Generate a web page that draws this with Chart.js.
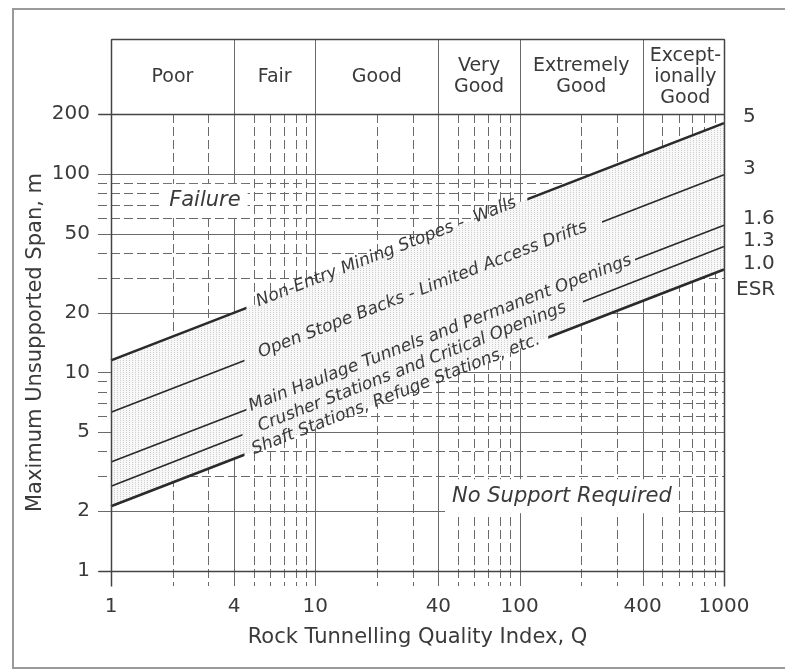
<!DOCTYPE html>
<html>
<head>
<meta charset="utf-8">
<script src="https://cdn.jsdelivr.net/npm/chart.js@4.4.0/dist/chart.umd.min.js"></script>
<style>
  html, body { margin: 0; padding: 0; background: #fff; }
  #wrap { width: 785px; height: 671px; }
</style>
</head>
<body>
<div id="wrap"><canvas id="chart" width="785" height="671"></canvas></div>
<script>
// span lines, read at Q = 1, at the right frame (1000) and at the end of the overhang
const qValues = [1, 1000, 1120];
const esrNames = ['5', '3', '1.6', '1.3', '1.0'];
const spanEsr50 = [11.5, 180, 186];
const spanEsr30 = [6.3, 99, 102];
const spanEsr16 = [3.54, 55, 57.4];
const spanEsr13 = [2.67, 43, 44.6];
const spanEsr10 = [2.12, 33, 34.2];

const lineLabels = [
    'Non-Entry Mining Stopes -  Walls',
    'Open Stope Backs - Limited Access Drifts',
    'Main Haulage Tunnels and Permanent Openings',
    'Crusher Stations and Critical Openings',
    'Shaft Stations, Refuge Stations, etc.'
];
// where each line is broken for its label (Q values)
const labelGapFrom = [4.6, 4.5, 4.6, 4.4, 4.5];
const labelGapTo = [109, 253, 367, 204, 138];

const qualityClasses = [['Poor'], ['Fair'], ['Good'], ['Very', 'Good'], ['Extremely', 'Good'], ['Except-', 'ionally', 'Good']];
const qualityBounds = [1, 4, 10, 40, 100, 400, 1000];

const xTicks = [1, 4, 10, 40, 100, 400, 1000];
const yTicks = [1, 2, 5, 10, 20, 50, 100, 200];
const xDashed = [2, 3, 5, 6, 7, 8, 9, 20, 30, 50, 60, 70, 80, 90, 200, 300, 500, 600, 700, 800, 900];
const yDashed = [3, 4, 6, 7, 8, 9, 30, 40, 60, 70, 80, 90];

const FONT = '"DejaVu Sans", sans-serif';
const inkColor = '#3a3a3a';
const gridColor = '#6a6a6a';
const lineColor = '#2a2a2a';
const bandHeight = 75;

const canvas = document.getElementById('chart');

// stippled fill for the band between ESR 5 and ESR 1.0
function makeStipple() {
    const tile = document.createElement('canvas');
    tile.width = 3;
    tile.height = 2;
    const g = tile.getContext('2d');
    g.fillStyle = '#f8f8f8';
    g.fillRect(0, 0, 3, 2);
    g.fillStyle = '#cdcdcd';
    g.fillRect(0, 0, 1, 1);
    return canvas.getContext('2d').createPattern(tile, 'repeat');
}

function linePixelY(meta, px) {
    const pts = meta.data;
    for (let i = 0; i < pts.length - 1; i++) {
        const a = pts[i], b = pts[i + 1];
        if (px >= a.x && px <= b.x) return a.y + (b.y - a.y) * (px - a.x) / (b.x - a.x);
    }
    return pts[pts.length - 1].y;
}

function gapGeometry(chart, i) {
    const xs = chart.scales.x;
    const meta = chart.getDatasetMeta(i);
    const x1 = xs.getPixelForValue(labelGapFrom[i]);
    const x2 = xs.getPixelForValue(labelGapTo[i]);
    return { x1, y1: linePixelY(meta, x1), x2, y2: linePixelY(meta, x2) };
}

// grid: solid main lines, dashed intermediate ones, ticks sticking out of the frame
const gridPlugin = {
    id: 'chartGrid',
    beforeDraw(chart) {
        const { ctx, chartArea: a, scales: { x, y } } = chart;
        ctx.save();
        ctx.strokeStyle = gridColor;
        ctx.lineWidth = 1;
        const hLine = (v, dashed) => {
            const py = Math.round(y.getPixelForValue(v)) + 0.5;
            ctx.setLineDash(dashed ? [9, 4] : []);
            ctx.beginPath();
            ctx.moveTo(a.left - 13, py);
            ctx.lineTo(a.right, py);
            ctx.stroke();
        };
        const vLine = (v, dashed, top) => {
            const px = Math.round(x.getPixelForValue(v)) + 0.5;
            ctx.setLineDash(dashed ? [9, 4] : []);
            ctx.beginPath();
            ctx.moveTo(px, top);
            ctx.lineTo(px, a.bottom + 15);
            ctx.stroke();
        };
        yDashed.forEach(v => hLine(v, true));
        xDashed.forEach(v => vLine(v, true, a.top));
        yTicks.forEach(v => hLine(v, false));
        qualityBounds.forEach(v => vLine(v, false, a.top - bandHeight));
        ctx.restore();
    }
};

// break each line where its label sits
const gapPlugin = {
    id: 'labelGaps',
    beforeDatasetDraw(chart, args) {
        const g = gapGeometry(chart, args.index);
        const ctx = chart.ctx;
        ctx.save();
        ctx.beginPath();
        ctx.rect(0, 0, chart.width, chart.height);
        ctx.moveTo(g.x1, g.y1 - 6);
        ctx.lineTo(g.x2, g.y2 - 6);
        ctx.lineTo(g.x2, g.y2 + 6);
        ctx.lineTo(g.x1, g.y1 + 6);
        ctx.closePath();
        ctx.clip('evenodd');
    },
    afterDatasetDraw(chart) {
        chart.ctx.restore();
    }
};

function boxedItalic(ctx, text, px, py) {
    ctx.font = 'italic 21px ' + FONT;
    const w = ctx.measureText(text).width;
    ctx.fillStyle = '#fff';
    ctx.fillRect(px - w / 2 - 7, py - 17, w + 14, 34);
    ctx.fillStyle = inkColor;
    ctx.textAlign = 'center';
    ctx.textBaseline = 'middle';
    ctx.fillText(text, px, py);
}

const annotationPlugin = {
    id: 'annotations',
    afterDatasetsDraw(chart) {
        const { ctx, chartArea: a, scales: { x, y } } = chart;
        ctx.save();

        // frame over the band fill
        ctx.strokeStyle = '#444';
        ctx.lineWidth = 1.5;
        const left = Math.round(a.left) + 0.5, right = Math.round(a.right) + 0.5;
        const top = Math.round(a.top) + 0.5, bottom = Math.round(a.bottom) + 0.5;
        const bandTop = top - bandHeight;
        ctx.beginPath();
        ctx.moveTo(left, bandTop); ctx.lineTo(left, bottom + 15);
        ctx.moveTo(right, bandTop); ctx.lineTo(right, bottom + 15);
        ctx.moveTo(left, bandTop); ctx.lineTo(right, bandTop);
        ctx.moveTo(left - 13, top); ctx.lineTo(right, top);
        ctx.moveTo(left - 13, bottom); ctx.lineTo(right, bottom);
        ctx.stroke();

        // rock quality classes above the plot
        ctx.fillStyle = inkColor;
        ctx.font = '19px ' + FONT;
        ctx.textAlign = 'center';
        ctx.textBaseline = 'middle';
        qualityClasses.forEach((lines, i) => {
            const cx = (x.getPixelForValue(qualityBounds[i]) + x.getPixelForValue(qualityBounds[i + 1])) / 2;
            const cy = (bandTop + top) / 2;
            lines.forEach((t, k) => {
                ctx.fillText(t, cx + (lines.length === 3 ? 2 : 0), cy + (k - (lines.length - 1) / 2) * 21);
            });
        });

        // labels written along the lines
        ctx.font = 'italic 17px ' + FONT;
        ctx.textBaseline = 'alphabetic';
        lineLabels.forEach((txt, i) => {
            const g = gapGeometry(chart, i);
            ctx.save();
            ctx.translate((g.x1 + g.x2) / 2, (g.y1 + g.y2) / 2);
            ctx.rotate(Math.atan2(g.y2 - g.y1, g.x2 - g.x1));
            ctx.fillText(txt, 0, 3);
            ctx.restore();
        });

        // ESR values at the line ends
        ctx.font = '20px ' + FONT;
        ctx.textAlign = 'left';
        ctx.textBaseline = 'middle';
        let lastY = 0;
        esrNames.forEach((name, i) => {
            const pts = chart.getDatasetMeta(i).data;
            const p = pts[pts.length - 1];
            ctx.fillText(name, 743, p.y - 3);
            lastY = p.y - 3;
        });
        ctx.fillText('ESR', 736, lastY + 26);

        boxedItalic(ctx, 'Failure', x.getPixelForValue(2.88), y.getPixelForValue(73));
        boxedItalic(ctx, 'No Support Required', x.getPixelForValue(161), y.getPixelForValue(2.38));
        ctx.restore();
    },
    afterDraw(chart) {
        const ctx = chart.ctx;
        ctx.save();
        ctx.strokeStyle = '#9a9a9a';
        ctx.lineWidth = 2;
        ctx.strokeRect(13, 9, 800, 659);
        ctx.restore();
    }
};

const stipple = makeStipple();
const seriesList = [spanEsr50, spanEsr30, spanEsr16, spanEsr13, spanEsr10];

new Chart(canvas, {
    type: 'line',
    data: {
        datasets: seriesList.map((vals, i) => ({
            label: 'ESR ' + esrNames[i],
            data: qValues.map((q, k) => ({ x: q, y: vals[k] })),
            borderColor: lineColor,
            borderWidth: (i === 0 || i === 4) ? 2.6 : 1.6,
            pointRadius: 0,
            fill: i === 0 ? '+4' : false,
            backgroundColor: stipple,
            clip: false,
            tension: 0
        }))
    },
    options: {
        responsive: false,
        animation: false,
        layout: { padding: { left: 0, right: 61, top: 114, bottom: 0 } },
        plugins: {
            legend: { display: false },
            tooltip: { enabled: false },
            filler: { drawTime: 'beforeDatasetsDraw' }
        },
        scales: {
            x: {
                type: 'logarithmic',
                min: 1,
                max: 1000,
                grid: { display: false, drawTicks: false },
                border: { display: false },
                afterBuildTicks: s => { s.ticks = xTicks.map(v => ({ value: v })); },
                afterFit: s => { s.height = 100; },
                ticks: {
                    autoSkip: false,
                    maxRotation: 0,
                    padding: 24,
                    color: inkColor,
                    font: { family: FONT, size: 20 },
                    callback: v => String(v)
                },
                title: {
                    display: true,
                    text: 'Rock Tunnelling Quality Index, Q',
                    color: inkColor,
                    font: { family: FONT, size: 21 },
                    padding: { top: 0, bottom: 21 }
                }
            },
            y: {
                type: 'logarithmic',
                min: 1,
                max: 200,
                grid: { display: false, drawTicks: false },
                border: { display: false },
                afterBuildTicks: s => { s.ticks = yTicks.map(v => ({ value: v })); },
                afterFit: s => { s.width = 111; },
                ticks: {
                    autoSkip: false,
                    padding: 21,
                    color: inkColor,
                    font: { family: FONT, size: 20 },
                    callback: v => String(v)
                },
                title: {
                    display: true,
                    text: 'Maximum Unsupported Span, m',
                    color: inkColor,
                    font: { family: FONT, size: 21 },
                    padding: { top: 23, bottom: 0 }
                }
            }
        }
    },
    plugins: [gridPlugin, gapPlugin, annotationPlugin]
});
</script>
</body>
</html>
